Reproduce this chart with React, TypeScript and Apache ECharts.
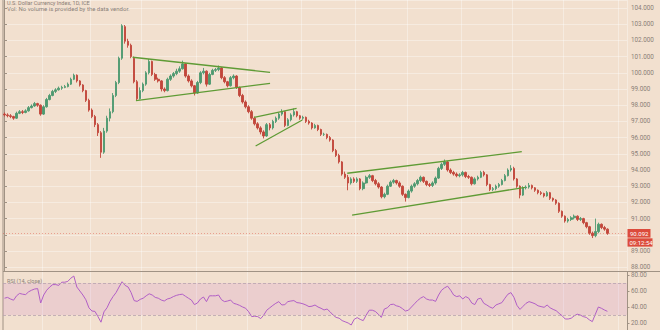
import React, { useEffect, useRef } from "react";
import * as echarts from "echarts";

// [open, close, low, high]
const candles: number[][] = [
  [97.45, 97.40, 97.30, 97.55], [97.40, 97.35, 97.25, 97.50], [97.35, 97.30, 97.20, 97.45], [97.30, 97.20, 97.10, 97.35],
  [97.20, 97.50, 97.15, 97.60], [97.50, 97.60, 97.45, 97.70], [97.60, 97.55, 97.45, 97.70], [97.55, 97.65, 97.50, 97.75],
  [97.65, 97.85, 97.60, 97.95], [97.85, 97.95, 97.80, 98.05], [97.95, 98.10, 97.90, 98.20], [98.10, 98.00, 97.90, 98.15],
  [98.00, 97.45, 97.35, 98.05], [97.45, 97.90, 97.40, 98.00], [97.90, 98.35, 97.85, 98.45], [98.35, 98.60, 98.30, 98.70],
  [98.60, 98.85, 98.55, 98.95], [98.85, 98.95, 98.75, 99.05], [98.95, 99.05, 98.90, 99.15], [99.05, 99.10, 98.95, 99.20],
  [99.10, 99.15, 99.05, 99.25], [99.15, 99.30, 99.10, 99.40], [99.30, 99.60, 99.25, 99.70], [99.60, 99.85, 99.55, 99.95],
  [99.85, 99.50, 99.40, 99.90], [99.50, 99.25, 99.15, 99.55], [99.25, 98.90, 98.80, 99.30], [98.90, 98.30, 98.20, 98.95],
  [98.30, 97.70, 97.60, 98.40], [97.70, 97.30, 97.20, 97.80], [97.30, 96.80, 96.65, 97.40], [96.80, 96.30, 96.10, 96.90],
  [96.30, 95.10, 94.75, 96.40], [95.10, 96.40, 95.00, 96.60], [96.40, 97.20, 96.30, 97.35], [97.20, 97.60, 97.00, 97.80],
  [97.60, 98.60, 97.50, 98.75], [98.60, 99.40, 98.50, 99.50], [99.40, 100.90, 99.30, 101.00], [100.90, 102.90, 100.80, 103.00],
  [102.85, 101.95, 101.80, 102.95], [101.95, 101.70, 101.55, 102.10], [101.70, 101.00, 100.90, 101.80], [100.90, 99.45, 99.35, 101.00],
  [99.45, 98.40, 98.30, 99.55], [98.40, 98.90, 98.35, 99.10], [98.90, 99.30, 98.80, 99.40], [99.30, 100.00, 99.20, 100.10],
  [100.00, 100.70, 99.90, 100.85], [100.70, 99.90, 99.80, 100.75], [99.90, 99.60, 99.50, 100.00], [99.60, 99.50, 99.40, 99.70],
  [99.50, 99.00, 98.85, 99.55], [99.00, 98.90, 98.80, 99.10], [98.90, 99.60, 98.85, 99.70], [99.60, 99.80, 99.50, 99.90],
  [99.80, 99.95, 99.70, 100.05], [99.95, 100.10, 99.85, 100.25], [100.10, 100.25, 100.00, 100.40], [100.25, 100.55, 100.20, 100.75],
  [100.55, 99.80, 99.70, 100.60], [99.80, 99.50, 99.40, 99.90], [99.50, 99.20, 99.10, 99.60], [99.20, 98.75, 98.60, 99.25],
  [98.75, 99.40, 98.70, 99.50], [99.40, 100.00, 99.30, 100.10], [100.00, 100.10, 99.90, 100.30], [100.10, 99.30, 99.15, 100.15],
  [99.30, 99.90, 99.25, 100.00], [99.90, 100.15, 99.85, 100.25], [100.15, 100.20, 100.05, 100.30], [100.20, 100.30, 100.10, 100.45],
  [100.30, 99.70, 99.60, 100.35], [99.70, 99.45, 99.35, 99.80], [99.45, 99.20, 99.10, 99.50], [99.20, 99.70, 99.15, 99.80],
  [99.70, 99.80, 99.60, 99.90], [99.80, 99.10, 99.00, 99.85], [99.10, 98.60, 98.50, 99.15], [98.60, 98.20, 98.10, 98.70],
  [98.20, 97.90, 97.80, 98.30], [97.90, 97.60, 97.50, 98.00], [97.60, 97.20, 97.10, 97.70], [97.20, 96.85, 96.75, 97.30],
  [96.85, 96.60, 96.50, 96.95], [96.60, 96.35, 96.20, 96.70], [96.35, 96.10, 95.95, 96.45], [96.10, 96.80, 96.05, 96.90],
  [96.80, 96.60, 96.45, 96.90], [96.60, 97.00, 96.50, 97.10], [97.00, 97.20, 96.90, 97.30], [97.20, 97.45, 97.10, 97.55],
  [97.45, 97.60, 97.35, 97.75], [97.60, 96.75, 96.65, 97.65], [96.75, 97.10, 96.70, 97.20], [97.10, 97.40, 97.00, 97.50],
  [97.40, 97.60, 97.30, 97.80], [97.60, 97.35, 97.25, 97.65], [97.35, 97.20, 97.10, 97.40], [97.20, 97.25, 97.10, 97.35],
  [97.25, 97.00, 96.90, 97.30], [97.00, 96.90, 96.80, 97.10], [96.90, 96.60, 96.50, 96.95], [96.60, 96.75, 96.55, 96.85],
  [96.75, 96.50, 96.40, 96.80], [96.50, 96.20, 96.10, 96.55], [96.20, 96.20, 96.10, 96.30], [96.20, 96.00, 95.90, 96.25],
  [96.00, 95.85, 95.75, 96.10], [95.85, 95.20, 95.10, 95.90], [95.20, 94.90, 94.80, 95.30], [94.90, 94.50, 94.40, 95.00],
  [94.50, 93.75, 93.65, 94.55], [93.75, 93.55, 93.45, 93.90], [93.55, 93.20, 92.75, 93.70], [93.20, 93.45, 93.10, 93.55],
  [93.45, 93.30, 93.20, 93.55], [93.30, 93.45, 93.20, 93.55], [93.45, 92.85, 92.75, 93.50], [92.85, 93.20, 92.75, 93.30],
  [93.20, 93.55, 93.15, 93.65], [93.55, 93.65, 93.45, 93.75], [93.65, 93.35, 93.25, 93.70], [93.35, 93.15, 93.05, 93.45],
  [93.15, 92.95, 92.85, 93.25], [92.95, 92.35, 92.25, 93.00], [92.35, 92.50, 92.25, 92.60], [92.50, 93.00, 92.45, 93.10],
  [93.00, 93.25, 92.95, 93.35], [93.25, 93.35, 93.15, 93.45], [93.35, 93.20, 93.10, 93.40], [93.20, 93.00, 92.90, 93.30],
  [93.00, 92.50, 92.40, 93.05], [92.50, 92.30, 92.05, 92.55], [92.30, 92.70, 92.25, 92.80], [92.70, 93.00, 92.60, 93.10],
  [93.00, 93.15, 92.90, 93.25], [93.15, 93.35, 93.05, 93.45], [93.35, 93.55, 93.25, 93.65], [93.55, 93.30, 93.20, 93.60],
  [93.30, 93.10, 93.00, 93.35], [93.10, 93.05, 92.95, 93.20], [93.05, 93.20, 92.95, 93.30], [93.20, 93.50, 93.10, 93.60],
  [93.50, 94.10, 93.45, 94.20], [94.10, 94.35, 94.00, 94.45], [94.35, 94.50, 94.25, 94.65], [94.50, 94.00, 93.90, 94.55],
  [94.00, 93.85, 93.75, 94.10], [93.85, 93.75, 93.65, 93.95], [93.75, 93.65, 93.55, 93.85], [93.65, 93.70, 93.55, 93.80],
  [93.70, 93.85, 93.60, 93.95], [93.85, 93.60, 93.50, 93.90], [93.60, 93.55, 93.45, 93.70], [93.55, 93.15, 93.05, 93.60],
  [93.15, 93.45, 93.10, 93.55], [93.45, 93.55, 93.35, 93.65], [93.55, 93.85, 93.50, 93.95], [93.85, 93.70, 93.60, 93.95],
  [93.70, 93.10, 93.00, 93.75], [93.10, 92.80, 92.70, 93.15], [92.80, 92.85, 92.70, 92.95], [92.85, 93.00, 92.75, 93.10],
  [93.00, 93.10, 92.90, 93.20], [93.10, 93.35, 93.05, 93.45], [93.35, 93.65, 93.30, 93.75], [93.65, 94.00, 93.60, 94.10],
  [94.00, 94.10, 93.90, 94.30], [94.10, 93.45, 93.35, 94.20], [93.45, 93.00, 92.90, 93.50], [93.00, 92.45, 92.25, 93.05],
  [92.45, 92.90, 92.40, 93.00], [92.90, 92.95, 92.80, 93.05], [92.95, 93.05, 92.85, 93.20], [93.05, 92.90, 92.80, 93.10],
  [92.90, 92.75, 92.65, 92.95], [92.75, 92.60, 92.50, 92.80], [92.60, 92.55, 92.45, 92.70], [92.55, 92.40, 92.30, 92.60],
  [92.40, 92.60, 92.35, 92.70], [92.60, 92.25, 92.15, 92.65], [92.25, 92.15, 92.05, 92.30], [92.15, 91.95, 91.85, 92.20],
  [91.95, 91.45, 91.35, 92.00], [91.45, 91.15, 91.05, 91.50], [91.15, 90.85, 90.75, 91.20], [90.85, 90.95, 90.75, 91.05],
  [90.95, 91.05, 90.85, 91.15], [91.05, 91.15, 90.95, 91.25], [91.15, 90.95, 90.85, 91.20], [90.95, 91.00, 90.85, 91.10],
  [91.00, 90.75, 90.65, 91.05], [90.75, 90.50, 90.40, 90.80], [90.50, 90.10, 90.00, 90.55], [90.10, 89.95, 89.80, 90.20],
  [89.95, 90.20, 89.85, 91.00], [90.20, 90.65, 90.10, 90.75], [90.65, 90.45, 90.35, 90.70], [90.45, 90.35, 90.25, 90.55],
  [90.35, 90.09, 90.00, 90.40],
];

const rsiValues: number[] = [
  51, 52, 50, 48.5, 54, 57, 56, 55.5, 59, 61, 62.5, 63, 45, 55, 61, 65, 68, 68, 67, 71,
  71, 72, 76, 78.7, 65, 60, 55, 49, 39, 35, 34.5, 28, 21, 34, 39, 47, 53, 58, 65, 71.6,
  67, 65, 58, 48, 47, 49.5, 51, 54, 56.5, 55, 52, 51, 48.7, 47.5, 50, 51, 53, 54.5, 55.5, 56,
  53.5, 51, 48.7, 43, 45, 50, 52.5, 46.7, 54, 54, 54, 55, 49, 46.7, 47.5, 48.7, 44.6, 43.5, 42, 40,
  38.4, 34, 28, 28.5, 28, 25.5, 30, 36, 39, 42, 44.6, 46.7, 42.5, 43, 46.7, 47.5, 48, 45.5, 45, 44,
  42.5, 40.5, 41, 42.5, 40, 38.4, 36.3, 37.5, 34, 30, 27, 26, 23, 21.5, 20, 17.5, 24.6, 26.7, 24.5, 23,
  30, 36, 36, 34.5, 31, 27, 37.5, 39, 43, 43.5, 41.5, 40.5, 38, 35, 36, 40, 44, 48, 51, 53,
  50, 48.7, 48.7, 47, 55, 61, 64, 66, 61, 55, 53, 54, 50, 53, 51, 45, 43, 50, 51, 44.6,
  42.5, 40, 38.4, 42.5, 44, 45.5, 51, 56, 58, 52, 42, 37, 40.8, 44.6, 46.7, 45.5, 44, 41.5, 40.5, 39.6,
  42.5, 39, 37, 35.4, 32, 29, 25, 25, 26, 29, 31, 30, 28, 27, 24, 21.7, 31, 40, 38.4, 36.3,
  34.6,
];

// trend lines: [[candleIndex, price], [candleIndex, price]]
const trendLines: number[][][] = [
  [[42.5, 100.96], [88.1, 100.03]],
  [[43.6, 98.28], [88.1, 99.35]],
  [[82.8, 97.25], [96.9, 97.81]],
  [[83.3, 95.48], [98.8, 97.09]],
  [[113.7, 93.8], [171.6, 95.13]],
  [[115.3, 91.22], [172.7, 92.93]],
];

const periodStarts = [13, 29, 46, 64, 81, 99, 117, 134, 152, 169, 186, 204];
const slotCount = 207;
const lastPrice = 90.092;
const hiddenPriceTick = 90;
const timeLeft = "09:12:54";
const titleText = "U.S. Dollar Currency Index, 1D, ICE";
const volText = "Vol: No volume is provided by the data vendor.";
const rsiTitle = "RSI (14, close)";

const BG = "#f2e0cf";
const AXIS = "#a09284";
const LABEL = "#8a7f77";
const GRID = "rgba(255,255,255,0.35)";
const UP = "#4e9a70";
const DOWN = "#c2463b";
const TREND = "#5f9b35";
const RSI = "#b15fc6";
const TAG = "#dc4b3c";

export default function App() {
  const ref = useRef<HTMLDivElement>(null);
  useEffect(() => {
    if (!ref.current) return;
    const chart = echarts.init(ref.current, undefined, { renderer: "svg" });
    const cats = Array.from({ length: slotCount }, (_, i) => String(i));
    const font = "Roboto";
    const splitX = {
      show: true,
      interval: (idx: number) => periodStarts.includes(idx),
      lineStyle: { color: GRID, width: 1 },
    };
    const option: any = {
      animation: false,
      backgroundColor: BG,
      textStyle: { fontFamily: font },
      grid: [
        { left: 3, right: 33, top: 0, height: 271.5 },
        { left: 3, right: 33, top: 271.5, height: 58.5 },
      ],
      xAxis: [
        {
          type: "category", gridIndex: 0, data: cats, boundaryGap: true,
          axisLine: { show: false }, axisTick: { show: false }, axisLabel: { show: false },
          splitLine: splitX,
        },
        { type: "value", gridIndex: 0, min: -0.5, max: slotCount - 0.5, show: false },
        {
          type: "category", gridIndex: 1, data: cats, boundaryGap: true,
          axisLine: { show: false }, axisTick: { show: false }, axisLabel: { show: false },
          splitLine: splitX,
        },
      ],
      yAxis: [
        {
          type: "value", gridIndex: 0, position: "right", min: 87.735, max: 104.494, splitNumber: 16,
          axisLine: { show: true, lineStyle: { color: AXIS, width: 1 } },
          axisTick: { show: true, length: 2.5, lineStyle: { color: AXIS } },
          axisLabel: {
            color: LABEL, fontSize: 6.3, margin: 4, showMinLabel: false, showMaxLabel: false,
            formatter: (v: number) => (Math.abs(v - hiddenPriceTick) < 1e-6 ? "" : v.toFixed(3)),
          },
          splitLine: { show: true, lineStyle: { color: GRID } },
        },
        {
          type: "value", gridIndex: 1, position: "right", min: 11.25, max: 84.375, splitNumber: 4,
          axisLine: { show: true, lineStyle: { color: AXIS, width: 1 } },
          axisTick: { show: true, length: 2.5, lineStyle: { color: AXIS } },
          axisLabel: {
            color: LABEL, fontSize: 6.3, margin: 4, showMinLabel: false, showMaxLabel: false,
            formatter: (v: number) => v.toFixed(2),
          },
          splitLine: { show: false },
        },
      ],
      series: [
        {
          type: "candlestick",
          xAxisIndex: 0, yAxisIndex: 0,
          data: candles,
          barWidth: "68%",
          itemStyle: { color: UP, color0: DOWN, borderColor: UP, borderColor0: DOWN, borderWidth: 0.9 },
          markLine: {
            silent: true, symbol: ["none", "none"],
            lineStyle: { color: TAG, type: [1, 2], width: 0.8, opacity: 0.55 },
            label: { show: false },
            data: [{ yAxis: lastPrice }],
          },
        },
        ...trendLines.map((seg) => ({
          type: "line", xAxisIndex: 1, yAxisIndex: 0, data: seg, symbol: "none",
          lineStyle: { color: TREND, width: 1.3 }, silent: true,
        })),
        {
          type: "line", xAxisIndex: 2, yAxisIndex: 1, data: rsiValues, symbol: "none",
          lineStyle: { color: RSI, width: 1 },
          markArea: {
            silent: true,
            itemStyle: { color: "rgba(200,120,200,0.17)" },
            data: [[{ yAxis: 70 }, { yAxis: 30 }]],
          },
          markLine: {
            silent: true, symbol: ["none", "none"],
            lineStyle: { color: "#b8a3ae", type: [3, 2], width: 0.8 },
            label: { show: false },
            data: [{ yAxis: 70 }, { yAxis: 30 }],
          },
        },
      ],
    };
    chart.setOption(option);
    const py = chart.convertToPixel({ yAxisIndex: 0 } as any, lastPrice) as number;
    chart.setOption({
      graphic: [
        { type: "line", shape: { x1: 3, y1: 0, x2: 3, y2: 330 }, style: { stroke: AXIS, lineWidth: 1 } },
        { type: "line", shape: { x1: 3, y1: 271.5, x2: 660, y2: 271.5 }, style: { stroke: AXIS, lineWidth: 1.2 } },
        { type: "text", left: 7, top: 0, style: { text: titleText, fill: LABEL, font: `5.5px ${font}` } },
        { type: "text", left: 7, top: 5.8, style: { text: volText, fill: LABEL, font: `6px ${font}` } },
        { type: "text", left: 7, top: 278, style: { text: rsiTitle, fill: LABEL, font: `5.5px ${font}` } },
        { type: "rect", shape: { x: 627.5, y: py - 4.3, width: 23, height: 8.6 }, style: { fill: TAG } },
        { type: "text", x: 630, y: py, style: { text: lastPrice.toFixed(3), fill: "#fff", font: `6px ${font}`, verticalAlign: "middle" } },
        { type: "rect", shape: { x: 627.5, y: py + 5, width: 25, height: 8.3 }, style: { fill: TAG } },
        { type: "text", x: 629.5, y: py + 9.2, style: { text: timeLeft, fill: "#fff", font: `6px ${font}`, verticalAlign: "middle" } },
      ],
    });
    return () => chart.dispose();
  }, []);
  return (
    <div
      ref={ref}
      style={{ position: "fixed", left: 0, top: 0, width: 660, height: 330, background: BG }}
    />
  );
}
